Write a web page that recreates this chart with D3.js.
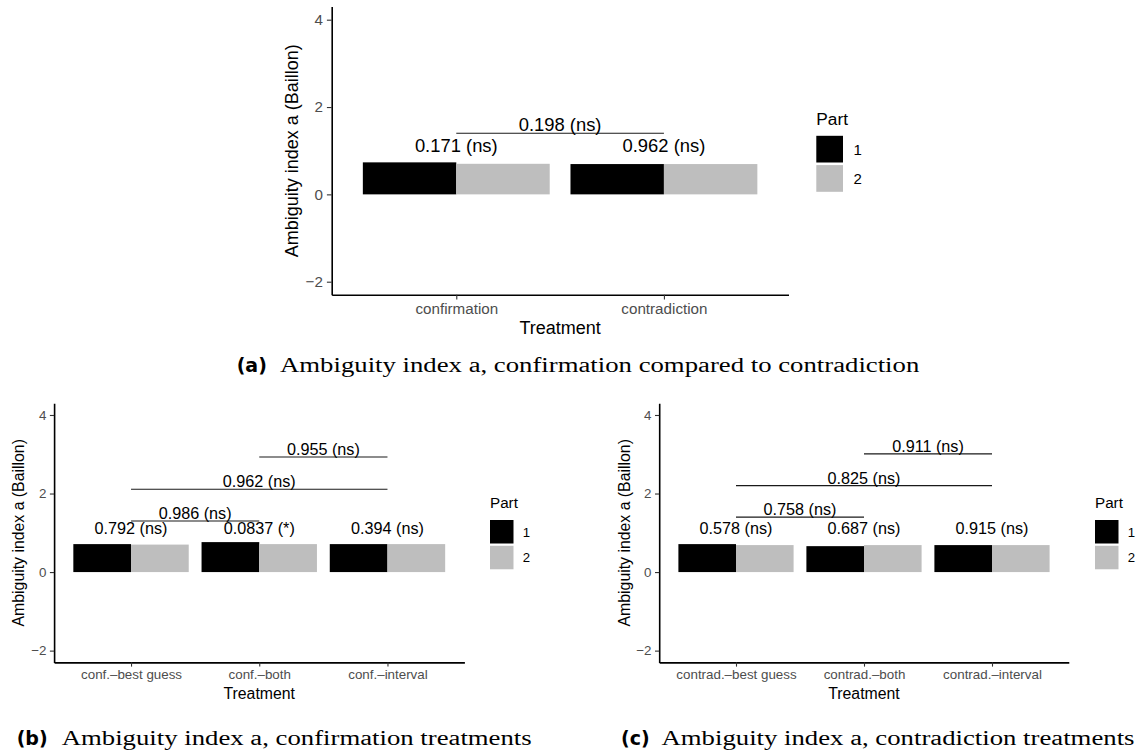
<!DOCTYPE html>
<html><head><meta charset="utf-8">
<script src="https://cdn.jsdelivr.net/npm/d3@7"></script>
<style>body{margin:0;background:#fff;} svg{display:block;}</style>
</head><body>
<svg id="chart" width="1139" height="756"></svg>
<script>
// ---------------- data ----------------
const partNames = ["1", "2"];
const partColors = ["#000000", "#BEBEBE"];
const yTicks = [-2, 0, 2, 4];
const yLimits = [-2, 4];
const yTitle = "Ambiguity index a (Baillon)";
const xTitle = "Treatment";
const legendTitle = "Part";
const testLabelY = 0.98;

const catsA = ["confirmation", "contradiction"];
const part1A = [0.733, 0.694];
const part2A = [0.700, 0.694];
const testLabelsA = ["0.171 (ns)", "0.962 (ns)"];
const bracketPairsA = [[0, 1]];
const bracketYA = [1.40];
const bracketLabelsA = ["0.198 (ns)"];

const catsB = ["conf.\u2013best guess", "conf.\u2013both", "conf.\u2013interval"];
const part1B = [0.712, 0.763, 0.712];
const part2B = [0.700, 0.712, 0.712];
const testLabelsB = ["0.792 (ns)", "0.0837 (*)", "0.394 (ns)"];
const bracketPairsB = [[0, 1], [0, 2], [1, 2]];
const bracketYB = [1.30, 2.11, 2.93];
const bracketLabelsB = ["0.986 (ns)", "0.962 (ns)", "0.955 (ns)"];

const catsC = ["contrad.\u2013best guess", "contrad.\u2013both", "contrad.\u2013interval"];
const part1C = [0.712, 0.660, 0.687];
const part2C = [0.687, 0.687, 0.687];
const testLabelsC = ["0.578 (ns)", "0.687 (ns)", "0.915 (ns)"];
const bracketPairsC = [[0, 1], [0, 2], [1, 2]];
const bracketYC = [1.40, 2.20, 3.01];
const bracketLabelsC = ["0.758 (ns)", "0.825 (ns)", "0.911 (ns)"];

const captionTags = ["(a)", "(b)", "(c)"];
const captionTexts = [
  "Ambiguity index a, confirmation compared to contradiction",
  "Ambiguity index a, confirmation treatments",
  "Ambiguity index a, contradiction treatments"
];

// ---------------- layout ----------------
const SANS = "'Liberation Sans', Arial, Helvetica, sans-serif";
const svg = d3.select("#chart");

function drawPanel(spec, L) {
  const s = L.s;
  const g = svg.append("g");
  const n = spec.cats.length;
  const x = d3.scalePoint().domain(spec.cats).range([L.x0, L.x1]).padding(0.6);
  const step = x.step();
  const xPart = d3.scaleBand().domain(partNames).range([-0.45 * step, 0.45 * step]);
  const span = yLimits[1] - yLimits[0];
  const y = d3.scaleLinear().domain([yLimits[0] - 0.05 * span, yLimits[1] + 0.05 * span]).range([L.y1, L.y0]);
  const color = d3.scaleOrdinal().domain(partNames).range(partColors);

  // bars
  const rows = [];
  spec.cats.forEach((c, i) => {
    rows.push({cat: c, part: partNames[0], v: spec.p1[i]});
    rows.push({cat: c, part: partNames[1], v: spec.p2[i]});
  });
  g.selectAll("rect.bar").data(rows).enter().append("rect")
    .attr("class", "bar")
    .attr("x", d => x(d.cat) + xPart(d.part))
    .attr("width", xPart.bandwidth())
    .attr("y", d => y(Math.max(0, d.v)))
    .attr("height", d => Math.abs(y(d.v) - y(0)))
    .attr("fill", d => color(d.part));

  // per-category test labels
  g.selectAll("text.tl").data(spec.cats).enter().append("text")
    .attr("x", d => x(d)).attr("y", y(testLabelY))
    .attr("text-anchor", "middle")
    .style("font-family", SANS).style("font-size", (18.4 * s) + "px").attr("fill", "#000")
    .text((d, i) => spec.tests[i]);

  // brackets
  spec.pairs.forEach((p, i) => {
    const xa = x(spec.cats[p[0]]), xb = x(spec.cats[p[1]]);
    const yy = y(spec.by[i]);
    g.append("line").attr("x1", xa).attr("x2", xb).attr("y1", yy).attr("y2", yy)
      .attr("stroke", "#1a1a1a").attr("stroke-width", 1.1);
    g.append("text").attr("x", (xa + xb) / 2).attr("y", yy - 2)
      .attr("text-anchor", "middle")
      .style("font-family", SANS).style("font-size", (18.4 * s) + "px").attr("fill", "#000")
      .text(spec.bl[i]);
  });

  // y axis
  const tickLen = 4.8 * s;
  const yAxis = d3.axisLeft(y).tickValues(yTicks).tickSize(tickLen).tickSizeOuter(0).tickPadding(4 * s)
    .tickFormat(d => d < 0 ? "\u2212" + Math.abs(d) : String(d));
  const ya = g.append("g").attr("transform", `translate(${L.x0},0)`).call(yAxis);
  ya.select(".domain").attr("stroke", "#000").attr("stroke-width", 1.6);
  ya.selectAll(".tick line").attr("stroke", "#333").attr("stroke-width", 1.1);
  ya.selectAll(".tick text").attr("fill", "#4D4D4D").style("font-family", SANS).style("font-size", (15.2 * s) + "px");

  // x axis
  const xAxis = d3.axisBottom(x).tickSize(tickLen).tickSizeOuter(0).tickPadding(3.2 * s);
  const xa = g.append("g").attr("transform", `translate(0,${L.y1})`).call(xAxis);
  xa.select(".domain").attr("stroke", "#000").attr("stroke-width", 1.6);
  xa.selectAll(".tick line").attr("stroke", "#333").attr("stroke-width", 1.1);
  xa.selectAll(".tick text").attr("fill", "#4D4D4D").style("font-family", SANS).style("font-size", (15.2 * s) + "px");

  // axis titles
  g.append("text").attr("x", (L.x0 + L.x1) / 2).attr("y", L.y1 + L.xTitleOff)
    .attr("text-anchor", "middle").style("font-family", SANS).style("font-size", (18 * s) + "px")
    .text(xTitle);
  g.append("text").attr("transform", `translate(${L.x0 - 33.7 * s},${(L.y0 + L.y1) / 2}) rotate(-90)`)
    .attr("text-anchor", "middle").style("font-family", SANS).style("font-size", (18 * s) + "px")
    .text(yTitle);

  // legend
  const keySize = 26.7 * s, keyPitch = 29.3 * s;
  g.append("text").attr("x", L.legX).attr("y", L.legTitleY)
    .style("font-family", SANS).style("font-size", (17.3 * s) + "px").text(legendTitle);
  const lg = g.selectAll("g.key").data(partNames).enter().append("g").attr("class", "key");
  lg.append("rect").attr("x", L.legX).attr("y", (d, i) => L.keyTop + i * keyPitch)
    .attr("width", keySize).attr("height", keySize).attr("fill", d => color(d));
  lg.append("text").attr("x", L.legX + keySize + 10.5 * s)
    .attr("y", (d, i) => L.keyTop + i * keyPitch + keySize / 2)
    .attr("dy", "0.36em")
    .style("font-family", SANS).style("font-size", (15 * s) + "px").text(d => d);
}

drawPanel({cats: catsA, p1: part1A, p2: part2A, tests: testLabelsA, pairs: bracketPairsA, by: bracketYA, bl: bracketLabelsA},
  {x0: 331.7, x1: 788.5, y0: 6.6, y1: 294.8, s: 1, xTitleOff: 39.5, legX: 816.3, legTitleY: 125, keyTop: 135.8});
drawPanel({cats: catsB, p1: part1B, p2: part2B, tests: testLabelsB, pairs: bracketPairsB, by: bracketYB, bl: bracketLabelsB},
  {x0: 54.1, x1: 464.4, y0: 403.2, y1: 662.4, s: 0.88, xTitleOff: 36.6, legX: 490, legTitleY: 508.3, keyTop: 520});
drawPanel({cats: catsC, p1: part1C, p2: part2C, tests: testLabelsC, pairs: bracketPairsC, by: bracketYC, bl: bracketLabelsC},
  {x0: 659.2, x1: 1068.8, y0: 403.2, y1: 662.4, s: 0.88, xTitleOff: 36.6, legX: 1095, legTitleY: 508.3, keyTop: 520});

// captions
const capPos = [
  {tagX: 236.7, textX: 280, y: 372},
  {tagX: 16.7, textX: 61.7, y: 745},
  {tagX: 621, textX: 661.5, y: 745}
];
const SERIF = "'Liberation Serif', 'Times New Roman', serif";
const capFont = 20.5;
const refWidth = 470; // width of caption (b) text
const meas = svg.append("text").style("font-family", SERIF).style("font-size", capFont + "px");
const natural = captionTexts.map(t => { meas.text(t); return meas.node().getComputedTextLength(); });
meas.remove();
captionTexts.forEach((t, i) => {
  const p = capPos[i];
  svg.append("text").attr("x", p.tagX).attr("y", p.y)
    .style("font-family", "'DejaVu Sans', sans-serif").style("font-weight", "bold").style("font-size", "19px")
    .text(captionTags[i]);
  svg.append("text").attr("x", p.textX).attr("y", p.y)
    .style("font-family", SERIF).style("font-size", capFont + "px")
    .attr("textLength", refWidth * natural[i] / natural[1]).attr("lengthAdjust", "spacingAndGlyphs")
    .text(t);
});
</script>
</body></html>
